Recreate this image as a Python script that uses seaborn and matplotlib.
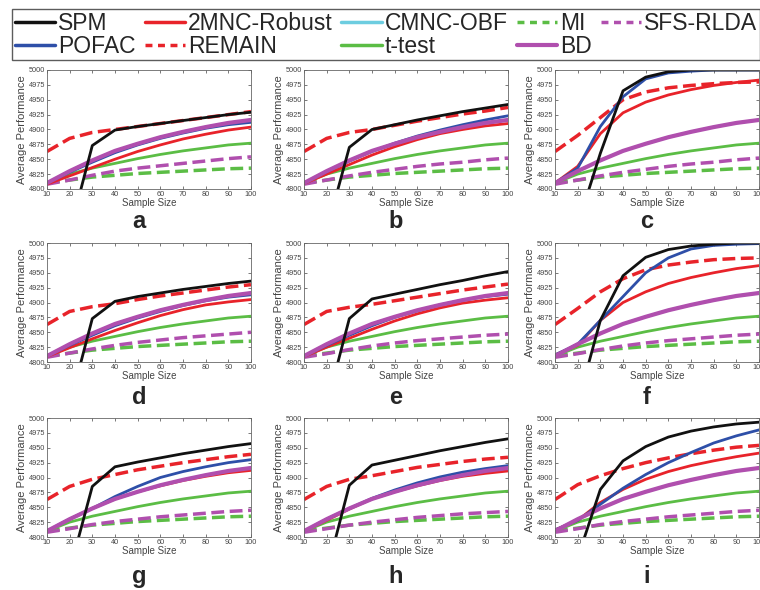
import pandas as pd
import seaborn as sns
import matplotlib.pyplot as plt
from matplotlib.lines import Line2D

sns.set_style("white")
plt.rcParams['font.family'] = ['Liberation Sans', 'DejaVu Sans']

sample_size = [10, 20, 30, 40, 50, 60, 70, 80, 90, 100]
panels = ['a', 'b', 'c', 'd', 'e', 'f', 'g', 'h', 'i']

# SPM (one list per panel)
spm = [
    [4600, 4727, 4873, 4899, 4905, 4910, 4915, 4920, 4925, 4929],
    [4600, 4730, 4870, 4900, 4908, 4916, 4923, 4930, 4936, 4942],
    [4600, 4740, 4860, 4965, 4988, 4997, 5000, 5000, 5000, 5000],
    [4600, 4727, 4873, 4902, 4910, 4916, 4922, 4927, 4932, 4936],
    [4600, 4727, 4873, 4906, 4914, 4922, 4930, 4937, 4945, 4952],
    [4600, 4730, 4870, 4945, 4976, 4989, 4995, 4998, 5000, 5000],
    [4600, 4743, 4885, 4918, 4926, 4933, 4940, 4946, 4952, 4957],
    [4600, 4740, 4887, 4921, 4929, 4937, 4945, 4952, 4959, 4965],
    [4600, 4765, 4880, 4928, 4952, 4968, 4978, 4985, 4990, 4993],
]
mnc_robust = [
    [4808, 4822, 4836, 4850, 4863, 4874, 4884, 4892, 4899, 4904],
    [4809, 4825, 4841, 4857, 4871, 4883, 4893, 4900, 4906, 4910],
    [4810, 4838, 4893, 4928, 4946, 4958, 4967, 4974, 4979, 4983],
    [4809, 4824, 4839, 4853, 4866, 4878, 4888, 4896, 4901, 4905],
    [4809, 4825, 4840, 4855, 4869, 4881, 4891, 4899, 4904, 4908],
    [4812, 4828, 4870, 4900, 4918, 4932, 4942, 4950, 4957, 4962],
    [4810, 4830, 4848, 4864, 4876, 4886, 4895, 4902, 4908, 4912],
    [4810, 4828, 4847, 4864, 4876, 4886, 4895, 4902, 4907, 4911],
    [4812, 4828, 4858, 4880, 4897, 4910, 4920, 4928, 4935, 4941],
]
pofac = [
    [4810, 4828, 4845, 4861, 4874, 4885, 4894, 4902, 4908, 4912],
    [4810, 4829, 4847, 4863, 4877, 4889, 4899, 4908, 4916, 4923],
    [4810, 4835, 4905, 4955, 4985, 4995, 4998, 5000, 5000, 5000],
    [4810, 4828, 4845, 4861, 4874, 4885, 4895, 4903, 4909, 4913],
    [4810, 4828, 4845, 4861, 4875, 4886, 4896, 4904, 4910, 4914],
    [4812, 4830, 4870, 4910, 4950, 4975, 4990, 4996, 4998, 4999],
    [4810, 4830, 4848, 4868, 4885, 4900, 4910, 4918, 4925, 4930],
    [4810, 4830, 4848, 4865, 4879, 4891, 4901, 4909, 4915, 4920],
    [4812, 4828, 4855, 4882, 4905, 4925, 4942, 4958, 4970, 4980],
]
remain = [
    [4863, 4885, 4895, 4900, 4905, 4910, 4915, 4920, 4925, 4930],
    [4863, 4885, 4895, 4900, 4907, 4914, 4920, 4926, 4931, 4937],
    [4863, 4890, 4920, 4950, 4963, 4970, 4974, 4977, 4979, 4980],
    [4863, 4885, 4893, 4898, 4905, 4911, 4916, 4921, 4926, 4930],
    [4863, 4885, 4892, 4897, 4903, 4909, 4915, 4921, 4926, 4931],
    [4863, 4890, 4918, 4940, 4955, 4963, 4968, 4972, 4974, 4975],
    [4863, 4885, 4897, 4905, 4913, 4919, 4925, 4930, 4935, 4939],
    [4863, 4885, 4897, 4903, 4910, 4917, 4922, 4927, 4931, 4934],
    [4863, 4888, 4903, 4915, 4925, 4933, 4940, 4946, 4951, 4954],
]
sfs_rlda = [
    [4808, 4815, 4823, 4830, 4835, 4839, 4843, 4847, 4851, 4854],
    [4808, 4815, 4822, 4828, 4833, 4838, 4842, 4845, 4849, 4852],
    [4808, 4815, 4822, 4828, 4833, 4838, 4842, 4845, 4849, 4852],
    [4808, 4815, 4822, 4828, 4833, 4837, 4841, 4844, 4847, 4850],
    [4808, 4814, 4821, 4827, 4832, 4836, 4839, 4842, 4845, 4847],
    [4808, 4814, 4821, 4827, 4832, 4836, 4839, 4842, 4845, 4847],
    [4808, 4814, 4821, 4826, 4830, 4834, 4837, 4840, 4843, 4845],
    [4808, 4814, 4820, 4825, 4829, 4833, 4836, 4839, 4841, 4843],
    [4808, 4814, 4821, 4826, 4830, 4834, 4837, 4840, 4843, 4845],
]
# shared across panels
t_test = [4810, 4825, 4835, 4843, 4851, 4858, 4864, 4869, 4874, 4877]
mi = [4810, 4815, 4820, 4823, 4826, 4828, 4830, 4832, 4834, 4835]
bd = [4810, 4830, 4848, 4864, 4876, 4887, 4896, 4904, 4911, 4916]
cmnc_obf = [4810, 4830, 4848, 4864, 4876, 4887, 4896, 4904, 4911, 4916]

# name, data, color, linestyle, linewidth, per-panel?
styles = [
    ('SPM', spm, '#111111', '-', 2.0, True),
    ('POFAC', pofac, '#2e4fa8', '-', 2.0, True),
    ('2MNC-Robust', mnc_robust, '#e8232a', '-', 2.0, True),
    ('REMAIN', remain, '#e8232a', '--', 2.5, True),
    ('CMNC-OBF', cmnc_obf, '#6dcde0', '-', 2.0, False),
    ('t-test', t_test, '#5bbd45', '-', 2.0, False),
    ('MI', mi, '#5bbd45', '--', 2.5, False),
    ('BD', bd, '#b04fae', '-', 3.0, False),
    ('SFS-RLDA', sfs_rlda, '#b04fae', '--', 2.5, True),
]
draw_order = ['CMNC-OBF', 'MI', 'SFS-RLDA', 't-test', 'REMAIN', '2MNC-Robust', 'POFAC', 'BD', 'SPM']

fig = plt.figure(figsize=(7.6, 5.9), dpi=100)
lefts = [0.0618, 0.400, 0.7303]
bottoms = [0.6797, 0.3864, 0.0898]
letter_y = [-0.33, -0.35, -0.385]
w, h = 0.2684, 0.2017

for k, p in enumerate(panels):
    r, c = divmod(k, 3)
    ax = fig.add_axes([lefts[c], bottoms[r], w, h])
    lookup = {s[0]: s for s in styles}
    for name in draw_order:
        _, data, color, ls, lw, per_panel = lookup[name]
        y = data[k] if per_panel else data
        df = pd.DataFrame({'x': sample_size, 'y': y})
        sns.lineplot(data=df, x='x', y='y', ax=ax, color=color, linestyle=ls,
                     linewidth=lw, dashes=False if ls == '-' else (3, 2.2))
    ax.set_xlim(10, 100)
    ax.set_ylim(4800, 5000)
    ax.set_xticks(range(10, 101, 10))
    ax.set_yticks(range(4800, 5001, 25))
    ax.tick_params(direction='in', length=2.5, width=0.5, labelsize=5.3,
                   labelcolor='#444444', color='#444444', pad=1.5,
                   top=True, right=True, bottom=True, left=True)
    for sp in ax.spines.values():
        sp.set_color('#666666')
        sp.set_linewidth(0.6)
    ax.set_xlabel('Sample Size', fontsize=7, color='#444444', labelpad=0)
    ax.set_ylabel('Average Performance', fontsize=8, color='#444444', labelpad=1)
    ax.text(0.45, letter_y[r], p, transform=ax.transAxes, ha='center', va='baseline',
            fontsize=17, fontweight='bold')

handles = [Line2D([], [], color=s[2], linestyle=s[3], linewidth=2.5 if s[0] != 'BD' else 3,
                  dashes=(2, 1.6) if s[3] == '--' else (None, None)) for s in styles]
fig.legend(handles, [s[0] for s in styles], ncol=5, loc='upper left',
           bbox_to_anchor=(0.016, 0.895, 0.984, 0.09), mode='expand',
           fontsize=16.5, frameon=True, fancybox=False, edgecolor='#333333',
           handlelength=1.75, handletextpad=0.15, columnspacing=0.2,
           labelspacing=0.0, borderpad=0.12, borderaxespad=0)

fig.savefig('out.png', dpi=100)
